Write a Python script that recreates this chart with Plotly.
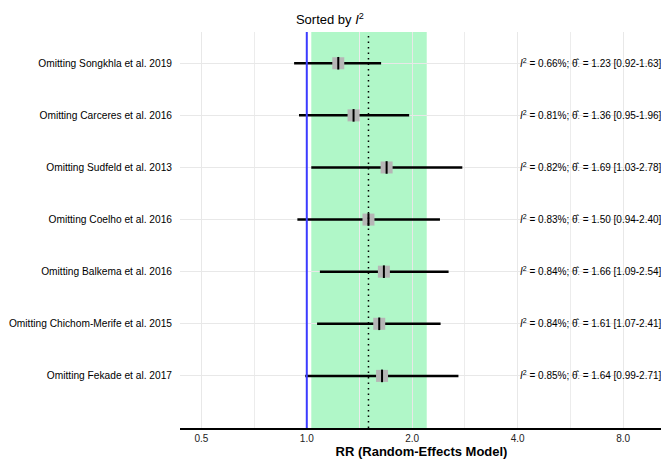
import plotly.graph_objects as go

# leave-one-out results, top row first
studies = [
    "Omitting Songkhla et al. 2019",
    "Omitting Carceres et al. 2016",
    "Omitting Sudfeld et al. 2013",
    "Omitting Coelho et al. 2016",
    "Omitting Balkema et al. 2016",
    "Omitting Chichom-Merife et al. 2015",
    "Omitting Fekade et al. 2017",
]
i2 = ["0.66%", "0.81%", "0.82%", "0.83%", "0.84%", "0.84%", "0.85%"]
rr = [1.23, 1.36, 1.69, 1.50, 1.66, 1.61, 1.64]
lower = [0.92, 0.95, 1.03, 0.94, 1.09, 1.07, 0.99]
upper = [1.63, 1.96, 2.78, 2.40, 2.54, 2.41, 2.71]

# pooled estimate and its interval (shaded band)
pooled = 1.50
band_lo = 1.03
band_hi = 2.20
null_value = 1.0

tick_vals = [0.5, 1.0, 2.0, 4.0, 8.0]
tick_text = ["0.5", "1.0", "2.0", "4.0", "8.0"]
minor_vals = [0.707, 1.414, 2.828, 5.657]

n = len(studies)
ypos = list(range(n, 0, -1))

fig = go.Figure()

# CI whiskers + square at the estimate
fig.add_trace(go.Scatter(
    x=rr, y=ypos, mode="markers",
    marker=dict(symbol="square", size=12, color="#b6b6b6"),
    error_x=dict(type="data", symmetric=False,
                 array=[u - e for u, e in zip(upper, rr)],
                 arrayminus=[e - l for e, l in zip(rr, lower)],
                 color="black", thickness=2.5, width=0),
    hoverinfo="skip", showlegend=False,
))

# small vertical tick at the point estimate
fig.add_trace(go.Scatter(
    x=rr, y=ypos, mode="markers",
    marker=dict(symbol="line-ns", size=9, line=dict(color="black", width=2)),
    hoverinfo="skip", showlegend=False,
))

# band, pooled line and null line
fig.add_shape(type="rect", xref="x", yref="paper", x0=band_lo, x1=band_hi, y0=0, y1=1,
              fillcolor="#b0f7c8", line_width=0, layer="below")
fig.add_shape(type="line", xref="x", yref="paper", x0=pooled, x1=pooled, y0=0, y1=1,
              line=dict(color="black", width=1.5, dash="1.5px,4px"))
fig.add_shape(type="line", xref="x", yref="paper", x0=null_value, x1=null_value, y0=0, y1=1,
              line=dict(color="#3b3bff", width=2))

# right-hand text
for k in range(n):
    txt = "<i>I</i><sup>2</sup> = {0}; θ̂<sub>·</sub> = {1:.2f} [{2:.2f}-{3:.2f}]".format(
        i2[k], rr[k], lower[k], upper[k])
    fig.add_annotation(x=0.70, xref="paper", xanchor="left", y=ypos[k], yref="y",
                       text=txt, showarrow=False, font=dict(size=10, color="black"))

# page body has an 8px margin, so the figure is 8px smaller than the window
fig.update_layout(
    width=661, height=456,
    margin=dict(l=172, r=6, t=24, b=36),
    plot_bgcolor="white", paper_bgcolor="white",
    font=dict(family="Liberation Sans, Arial", color="black"),
    title=dict(text="Sorted by <i>I</i><sup>2</sup>", x=0.487, xanchor="center",
               y=0.984, yanchor="top", font=dict(size=13, color="black")),
)
fig.update_xaxes(
    type="log", range=[-0.362, 1.017], automargin=False,
    tickvals=tick_vals, ticktext=tick_text,
    minor=dict(tickvals=minor_vals, showgrid=True, gridcolor="#ececec", gridwidth=1, ticks=""),
    tickfont=dict(size=10, color="#222222"),
    showgrid=True, gridcolor="#e8e8e8", gridwidth=1,
    showline=True, linecolor="black", linewidth=1.5,
    zeroline=False, ticks="",
    title=dict(text="<b>RR (Random-Effects Model)</b>", font=dict(size=13), standoff=0),
)
fig.update_yaxes(
    range=[0, 7.6], automargin=False,
    tickvals=ypos, ticktext=studies,
    tickfont=dict(size=10.2, color="black"),
    showgrid=True, gridcolor="#e8e8e8", gridwidth=1,
    zeroline=False, showline=False, ticks="", ticklabelstandoff=7,
)

fig.write_html("out.html")
